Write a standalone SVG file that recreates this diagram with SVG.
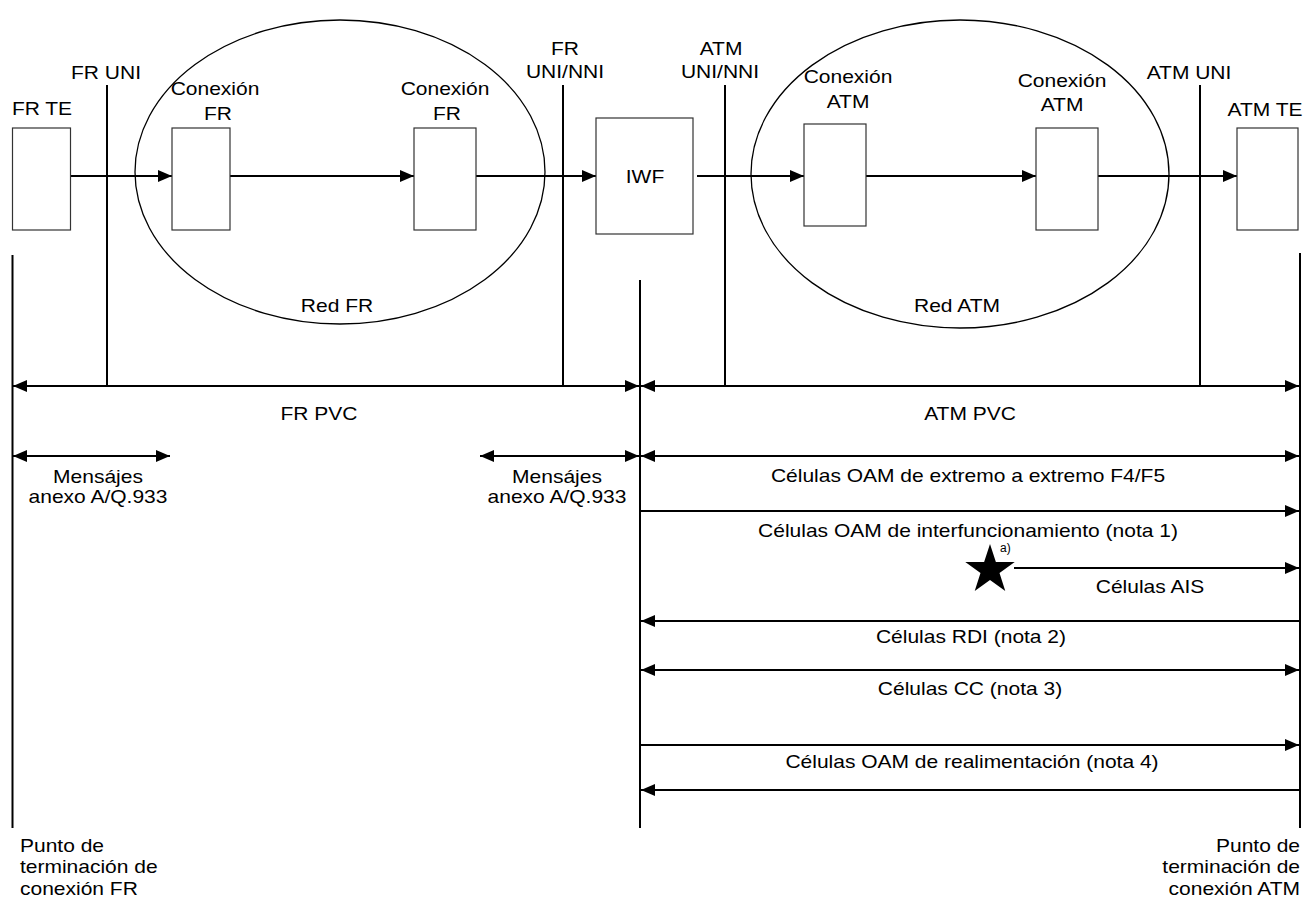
<svg xmlns="http://www.w3.org/2000/svg" width="1305" height="904" viewBox="0 0 1305 904">
<style>
  .t { font-family: "Liberation Sans", Arial, sans-serif; font-size: 17.5px; fill: #000; }
  .m { text-anchor: middle; }
  .e { text-anchor: end; }
  .box { fill: #fff; stroke: #333; stroke-width: 1.2; }
  .ell { fill: none; stroke: #000; stroke-width: 1.3; }
  .ln { stroke: #000; stroke-width: 2; fill: none; }
  .ar { stroke: #000; stroke-width: 2; fill: none; marker-end: url(#ah); }
  .ar2 { stroke: #000; stroke-width: 2; fill: none; marker-start: url(#ah); marker-end: url(#ah); }
  .arl { stroke: #000; stroke-width: 2; fill: none; marker-start: url(#ah); }
</style>
<defs>
  <marker id="ah" markerUnits="userSpaceOnUse" markerWidth="14" markerHeight="12" refX="14" refY="6" orient="auto-start-reverse">
    <path d="M0,0 L14,6 L0,12 z" fill="#000"/>
  </marker>
</defs>
<rect width="1305" height="904" fill="#fff"/>

<!-- networks -->
<g id="red-fr">
  <ellipse class="ell" cx="340" cy="172" rx="205" ry="152"/>
  <text class="t m" transform="translate(337,312) scale(1.2,1)">Red FR</text>
</g>
<g id="red-atm">
  <ellipse class="ell" cx="960" cy="174" rx="209" ry="154"/>
  <text class="t m" transform="translate(957,312) scale(1.2,1)">Red ATM</text>
</g>

<!-- connectors -->
<g id="connectors">
  <line class="ln" x1="12.5" y1="255" x2="12.5" y2="828"/>
  <line class="ln" x1="107" y1="85" x2="107" y2="386"/>
  <line class="ln" x1="563" y1="85" x2="563" y2="386"/>
  <line class="ln" x1="640" y1="280" x2="640" y2="828"/>
  <line class="ln" x1="725" y1="85" x2="725" y2="386"/>
  <line class="ln" x1="1200" y1="85" x2="1200" y2="386"/>
  <line class="ln" x1="1300" y1="253" x2="1300" y2="828"/>
  <line class="ar" x1="71" y1="176" x2="172" y2="176"/>
  <line class="ar" x1="230" y1="176" x2="414" y2="176"/>
  <line class="ar" x1="476" y1="176" x2="596" y2="176"/>
  <line class="ar" x1="697" y1="176" x2="804" y2="176"/>
  <line class="ar" x1="866" y1="176" x2="1036" y2="176"/>
  <line class="ar" x1="1098" y1="176" x2="1237" y2="176"/>
  <line class="ar2" x1="13" y1="386" x2="639" y2="386"/>
  <line class="ar2" x1="641" y1="386" x2="1299" y2="386"/>
  <line class="ar2" x1="13" y1="456" x2="170" y2="456"/>
  <line class="ar2" x1="480" y1="456" x2="639" y2="456"/>
  <line class="ar2" x1="641" y1="456" x2="1299" y2="456"/>
  <line class="ar" x1="641" y1="511" x2="1299" y2="511"/>
  <line class="ar" x1="1014" y1="568" x2="1299" y2="568"/>
  <line class="arl" x1="641" y1="621" x2="1299" y2="621"/>
  <line class="ar2" x1="641" y1="670" x2="1299" y2="670"/>
  <line class="ar" x1="641" y1="745" x2="1299" y2="745"/>
  <line class="arl" x1="641" y1="790" x2="1299" y2="790"/>
</g>

<!-- nodes -->
<g id="fr-te">
  <rect class="box" x="12.5" y="128" width="58" height="102"/>
  <text class="t m" transform="translate(42,115) scale(1.2,1)">FR TE</text>
</g>
<g id="conexion-fr-1">
  <rect class="box" x="172" y="128" width="58" height="102"/>
  <text class="t m" transform="translate(215,95) scale(1.2,1)">Conexión</text>
  <text class="t m" transform="translate(218,120) scale(1.2,1)">FR</text>
</g>
<g id="conexion-fr-2">
  <rect class="box" x="414" y="128" width="62" height="102"/>
  <text class="t m" transform="translate(445,95) scale(1.2,1)">Conexión</text>
  <text class="t m" transform="translate(447,120) scale(1.2,1)">FR</text>
</g>
<g id="iwf">
  <rect class="box" x="596" y="118" width="97" height="116"/>
  <text class="t m" transform="translate(645,183) scale(1.2,1)">IWF</text>
</g>
<g id="conexion-atm-1">
  <rect class="box" x="804" y="124" width="62" height="102"/>
  <text class="t m" transform="translate(848,83) scale(1.2,1)">Conexión</text>
  <text class="t m" transform="translate(848,108) scale(1.2,1)">ATM</text>
</g>
<g id="conexion-atm-2">
  <rect class="box" x="1036" y="128" width="62" height="102"/>
  <text class="t m" transform="translate(1062,87) scale(1.2,1)">Conexión</text>
  <text class="t m" transform="translate(1062,111) scale(1.2,1)">ATM</text>
</g>
<g id="atm-te">
  <rect class="box" x="1237" y="128" width="61" height="102"/>
  <text class="t m" transform="translate(1265,116) scale(1.2,1)">ATM TE</text>
</g>

<!-- interface and flow labels -->
<g id="labels">
  <text class="t m" transform="translate(106,79) scale(1.2,1)">FR UNI</text>
  <text class="t m" transform="translate(565,55) scale(1.2,1)">FR</text>
  <text class="t m" transform="translate(565,78) scale(1.2,1)">UNI/NNI</text>
  <text class="t m" transform="translate(721,55) scale(1.2,1)">ATM</text>
  <text class="t m" transform="translate(720,78) scale(1.2,1)">UNI/NNI</text>
  <text class="t m" transform="translate(1189,79) scale(1.2,1)">ATM UNI</text>

  <text class="t m" transform="translate(319,420) scale(1.2,1)">FR PVC</text>
  <text class="t m" transform="translate(970,420) scale(1.2,1)">ATM PVC</text>

  <text class="t m" transform="translate(98,483) scale(1.2,1)">Mensájes</text>
  <text class="t m" transform="translate(98,503) scale(1.2,1)">anexo A/Q.933</text>
  <text class="t m" transform="translate(557,483) scale(1.2,1)">Mensájes</text>
  <text class="t m" transform="translate(557,503) scale(1.2,1)">anexo A/Q.933</text>

  <text class="t m" transform="translate(968,482) scale(1.2,1)">Células OAM de extremo a extremo F4/F5</text>
  <text class="t m" transform="translate(968,537) scale(1.2,1)">Células OAM de interfuncionamiento (nota 1)</text>
  <text class="t m" transform="translate(1150,593) scale(1.2,1)">Células AIS</text>
  <text class="t m" transform="translate(971,643) scale(1.2,1)">Células RDI (nota 2)</text>
  <text class="t m" transform="translate(970,695) scale(1.2,1)">Células CC (nota 3)</text>
  <text class="t m" transform="translate(972,768) scale(1.2,1)">Células OAM de realimentación (nota 4)</text>

  <text class="t" transform="translate(20,852) scale(1.2,1)">Punto de</text>
  <text class="t" transform="translate(20,873) scale(1.2,1)">terminación de</text>
  <text class="t" transform="translate(20,895) scale(1.2,1)">conexión FR</text>
  <text class="t e" transform="translate(1300,852) scale(1.2,1)">Punto de</text>
  <text class="t e" transform="translate(1300,873) scale(1.2,1)">terminación de</text>
  <text class="t e" transform="translate(1300,895) scale(1.2,1)">conexión ATM</text>
</g>

<g id="fault-star">
  <polygon points="990,544 995.88,561.91 1014.73,561.97 999.51,573.09 1005.28,591.03 990,580 974.72,591.03 980.49,573.09 965.27,561.97 984.12,561.91" fill="#000"/>
  <text transform="translate(1000,552)" style="font-family:'Liberation Sans',Arial,sans-serif;font-size:12px">a)</text>
</g>
</svg>
